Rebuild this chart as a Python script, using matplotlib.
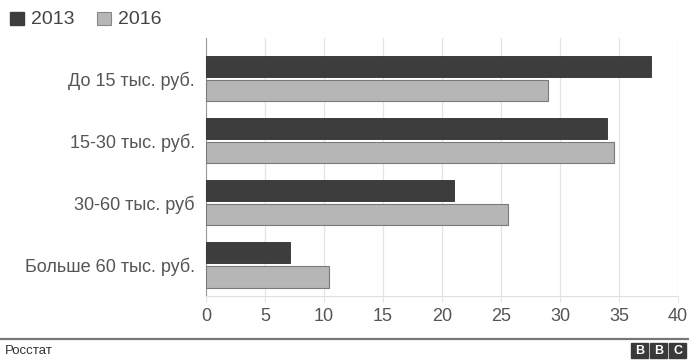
import numpy as np
import matplotlib.pyplot as plt
from matplotlib.patches import Rectangle

plt.rcParams['font.family'] = ['Liberation Sans', 'DejaVu Sans']

categories = ['До 15 тыс. руб.', '15-30 тыс. руб.', '30-60 тыс. руб', 'Больше 60 тыс. руб.']
vals_2013 = [37.7, 34.0, 21.0, 7.1]
vals_2016 = [29.0, 34.6, 25.6, 10.4]
xticks = [0, 5, 10, 15, 20, 25, 30, 35, 40]

dark = '#3d3d3d'
light = '#b6b6b6'
txt = '#555555'

fig = plt.figure(figsize=(6.89, 3.6), dpi=100)
ax = fig.add_axes([0.299, 0.178, 0.685, 0.716])

y = np.arange(len(categories))
h = 0.34
ax.barh(y - 0.195, vals_2013, height=h, color=dark, edgecolor='#2e2e2e', linewidth=0.6, zorder=3)
ax.barh(y + 0.195, vals_2016, height=h, color=light, edgecolor='#7a7a7a', linewidth=0.8, zorder=3)

ax.set_xlim(0, 40)
ax.set_ylim(3.5, -0.65)
ax.set_yticks(y)
ax.set_yticklabels(categories, fontsize=13, color=txt)
ax.set_xticks(xticks)
ax.set_xticklabels([str(t) for t in xticks], fontsize=13, color=txt)
ax.grid(axis='x', color='#e4e4e4', linewidth=0.9, zorder=0)
ax.tick_params(axis='y', length=0, pad=8)
ax.tick_params(axis='x', length=4, color='#e4e4e4', pad=5)
for s in ['top', 'right']:
    ax.spines[s].set_visible(False)
ax.spines['left'].set_color('#999999')
ax.spines['bottom'].set_color('#e0e0e0')

# legend
fig.patches.append(Rectangle((10 / 689, 1 - 25 / 360), 14 / 689, 13 / 360,
                             transform=fig.transFigure, color=dark))
fig.text(31 / 689, 1 - 19 / 360, '2013', fontsize=14, color='#444444', va='center')
fig.patches.append(Rectangle((97 / 689, 1 - 25 / 360), 14 / 689, 13 / 360,
                             transform=fig.transFigure, facecolor=light, edgecolor='#888888', linewidth=0.8))
fig.text(118 / 689, 1 - 19 / 360, '2016', fontsize=14, color='#444444', va='center')

# footer
fig.add_artist(plt.Line2D([0, 1], [1 - 339 / 360] * 2, transform=fig.transFigure, color='#777777', linewidth=1.6))
fig.text(5 / 689, 1 - 351 / 360, 'Росстат', fontsize=9.5, color='#333333', va='center')
for i, ch in enumerate('BBC'):
    x0 = (631 + i * 19) / 689
    fig.patches.append(Rectangle((x0, 1 - 358 / 360), 17 / 689, 15 / 360,
                                 transform=fig.transFigure, color='#3a3a3a'))
    fig.text(x0 + 8.5 / 689, 1 - 350.5 / 360, ch, fontsize=9, fontweight='bold',
             color='white', ha='center', va='center')

fig.savefig('out.png', dpi=100)
